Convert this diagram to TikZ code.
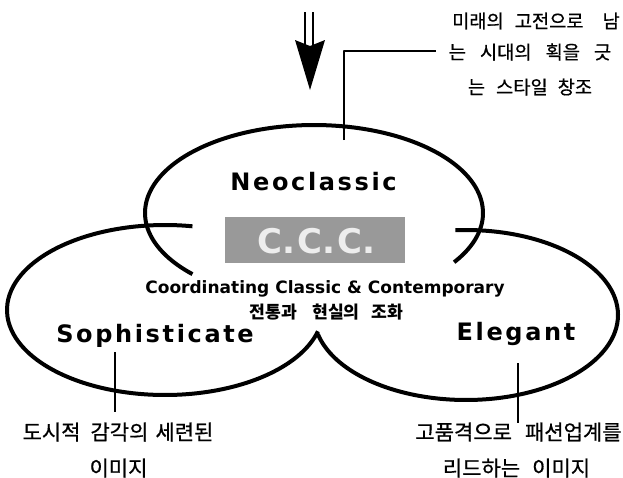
\documentclass[tikz,border=0pt]{standalone}
\usepackage{fontspec}
\newfontfamily\krfont{Noto Sans CJK KR}[FakeBold=0.7]
\newfontfamily\krbold{Noto Sans CJK KR}
\newfontfamily\latfont{DejaVu Sans}
\newfontfamily\latsp{DejaVu Sans}[LetterSpace=11]
\newcommand{\kg}[1]{\hspace{#1pt}}
\begin{document}
\begin{tikzpicture}[x=1pt,y=-1pt,line join=round]
\useasboundingbox (0,0) rectangle (623,477);
\tikzset{
  oval/.style={line width=4pt},
  lead/.style={line width=1.8pt},
  krbig/.style={font=\krfont\fontsize{21}{21}\selectfont, inner sep=0pt},
  krsmall/.style={font=\krfont\fontsize{18.7}{18.7}\selectfont, inner sep=0pt},
  krmid/.style={font=\krbold\bfseries\fontsize{17.2}{17.2}\selectfont, inner sep=0pt},
  title/.style={font=\latsp\bfseries\fontsize{24}{24}\selectfont, inner sep=0pt, anchor=base},
  sub/.style={font=\latfont\bfseries\fontsize{17}{17}\selectfont, inner sep=0pt, anchor=base},
}
% ovals
\draw[oval] plot[domain=-34:224, samples=90, smooth] ({314+169*cos(\x)},{213-88*sin(\x)});
\draw[oval] plot[domain=80:345.5, samples=90, smooth] ({165+158*cos(\x)},{310-85*sin(\x)});
\draw[oval] plot[domain=193:454, samples=90, smooth] ({466+152*cos(\x)},{315-85*sin(\x)});

% arrow
\coordinate (sA) at (305,12); \coordinate (sAe) at (305,45);
\coordinate (sB) at (313,12); \coordinate (sBe) at (313,45);
\draw[line width=2.4pt] (sA) -- (sAe);
\draw[line width=2.4pt] (sB) -- (sBe);
\coordinate (hl) at (295,40); \coordinate (tip) at (310,90);
\coordinate (hr) at (325,40); \coordinate (hm) at (310,46);
\fill (hl) -- (tip) -- (hr) -- (hm) -- cycle;

% labels in ovals
\node[title] (neo) at (313.5,190) {Neoclassic};
\node[title] (soph) at (155,342) {Sophisticate};
\node[title] (eleg) at (516,340) {Elegant};

\node[fill=black!40, minimum width=180pt, minimum height=46pt, inner sep=0pt] (cccbox) at (315,240) {};
\node[font=\latfont\bfseries\fontsize{34}{34}\selectfont, text=white!93!black, inner sep=0pt, anchor=base] (ccc) at (316.5,253) {C.\kg{2}C.\kg{2}C.};

\node[sub] (coord) at (325,293) {Coordinating Classic \& Contemporary};
\node[krmid] (harm) at (326.5,312) {전통과\kg{15}현실의\kg{12}조화};

% leaders
\coordinate (n1) at (344,140); \coordinate (n2) at (344,51); \coordinate (n3) at (436,51);
\draw[lead] (n1) -- (n2) -- (n3);
\coordinate (s1) at (115,352); \coordinate (s2) at (115,412);
\draw[lead] (s1) -- (s2);
\coordinate (e1) at (518,363); \coordinate (e2) at (518,423);
\draw[lead] (e1) -- (e2);

% annotations
\node[krsmall] (t1) at (536,21) {미래의\kg{11}고전으로\kg{19}남};
\node[krsmall] (t2) at (530,52) {는\kg{14}시대의\kg{14}획을\kg{14}긋};
\node[krsmall] (t3) at (530,87) {는\kg{11}스타일\kg{10}창조};

\node[krbig] (b1) at (118,432) {도시적\kg{10}감각의\kg{7}세련된};
\node[krbig] (b2) at (118.5,468) {이미지};
\node[krbig] (c1) at (518.5,432) {고품격으로\kg{13}패션업계를};
\node[krbig] (c2) at (516.5,468) {리드하는\kg{12}이미지};
\end{tikzpicture}
\end{document}
